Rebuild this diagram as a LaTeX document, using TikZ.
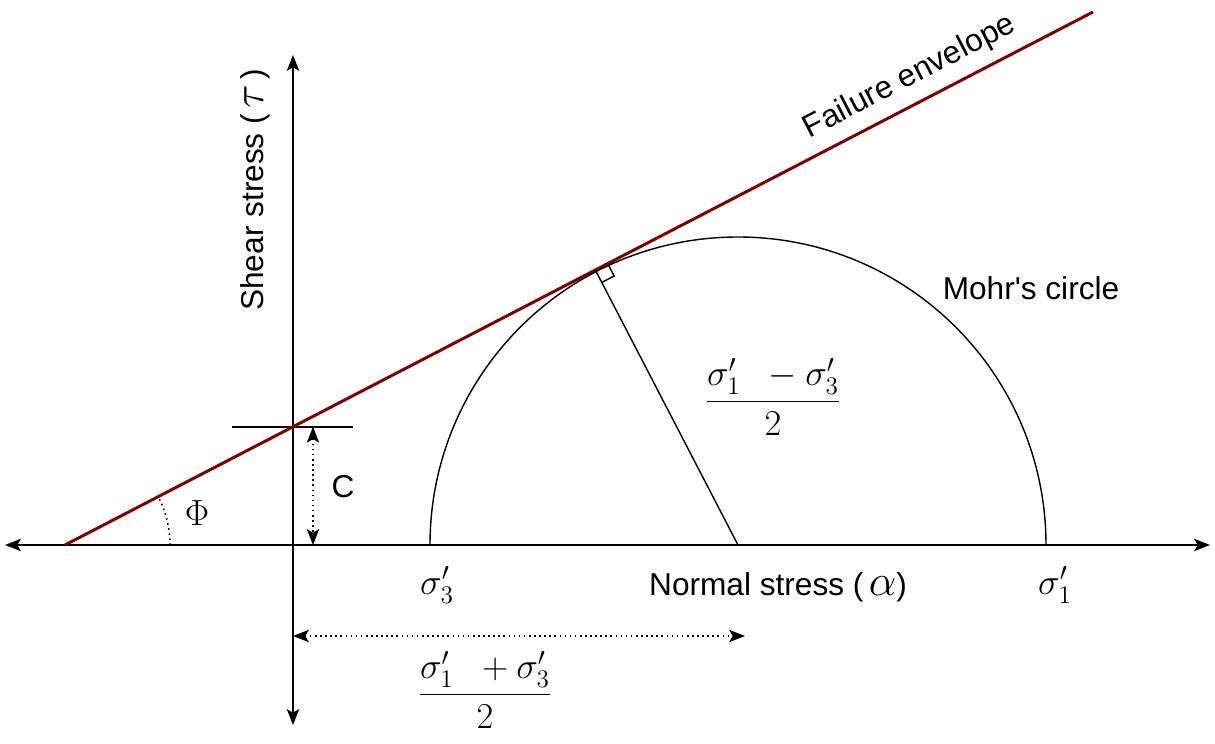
\documentclass[tikz,border=0pt]{standalone}
\usepackage{fontspec}
\setmainfont{Liberation Sans}
\usetikzlibrary{arrows.meta,calc,positioning}
\definecolor{envred}{RGB}{128,0,0}

\begin{document}
\begin{tikzpicture}[x=0.02cm,y=0.02cm,
  both/.style={{Stealth[length=9pt,width=7pt,inset=2pt]}-{Stealth[length=9pt,width=7pt,inset=2pt]}},
  lbl/.style={inner sep=1pt,font=\fontsize{18}{21}\selectfont},
  mth/.style={inner sep=1pt,font=\fontsize{21}{25}\selectfont}]
\useasboundingbox (0,0) rectangle (1215,744);
% axes
\coordinate (xl) at (5,199);
\coordinate (xr) at (1210,199);
\coordinate (yb) at (293,19);
\coordinate (yt) at (293,689);
\draw[line width=1.1pt,both] (xl)--(xr);
\draw[line width=1.1pt,both] (yb)--(yt);
% failure envelope
\coordinate (fs) at (65,199);
\coordinate (fe) at (1093,732);
\coordinate (tl) at (232,317.2);
\coordinate (tr) at (353,317.2);
\draw[line width=1pt] (tl)--(tr);
\draw[envred,line width=1.7pt] (fs)--(fe);
% Mohr's circle
\coordinate (ctr) at (738,199);
\coordinate (foot) at ($(fs)!(ctr)!(fe)$);
\draw[line width=0.8pt] ($(ctr)+(-308,0)$) arc[start angle=180,end angle=0,radius=308];
\draw[line width=0.8pt] (ctr)--(foot);
\draw[line width=0.8pt] ($(foot)+(12.4,6.4)$) -- ++(6.4,-12.4) -- ++(-12.4,-6.4);
% cohesion and angle
\coordinate (ca) at (313,317.2);
\coordinate (cb) at (313,199);
\draw[dotted,line width=0.9pt,both] (ca)--(cb);
\node[lbl] (clbl) at (343,257) {C};
\draw[dotted,line width=0.9pt] ($(fs)+(105,0)$) arc[start angle=0,end angle=27.4,radius=105];
\node[inner sep=1pt,font=\fontsize{22}{26}\selectfont] (phi) at (197,231) {$\Phi$};
% centre distance
\coordinate (da) at (293,108);
\coordinate (db) at (745,108);
\draw[dotted,line width=0.9pt,both] (da)--(db);
% labels
\node[mth] (s3) at (437,159) {$\sigma_3'$};
\node[mth] (s1) at (1055,159) {$\sigma_1'$};
\node[lbl] (nstr) at (778,157) {Normal stress (\,{\fontsize{28}{28}\selectfont$\alpha$})};
\node[lbl,rotate=90] (sstr) at (255,554) {Shear stress (\,{\fontsize{28}{28}\selectfont$\tau$}\,)};
\node[lbl] (mohr) at (1031,456) {Mohr\textquotesingle s circle};
\node[lbl,rotate=27.4] (fenv) at (910,667) {Failure envelope};
\node[mth] (fplus) at (485,54) {$\displaystyle\frac{\sigma_1'\;\;+\sigma_3'}{2}$};
\node[mth] (fminus) at (773,347) {$\displaystyle\frac{\sigma_1'\;\;-\sigma_3'}{2}$};
\end{tikzpicture}
\end{document}
